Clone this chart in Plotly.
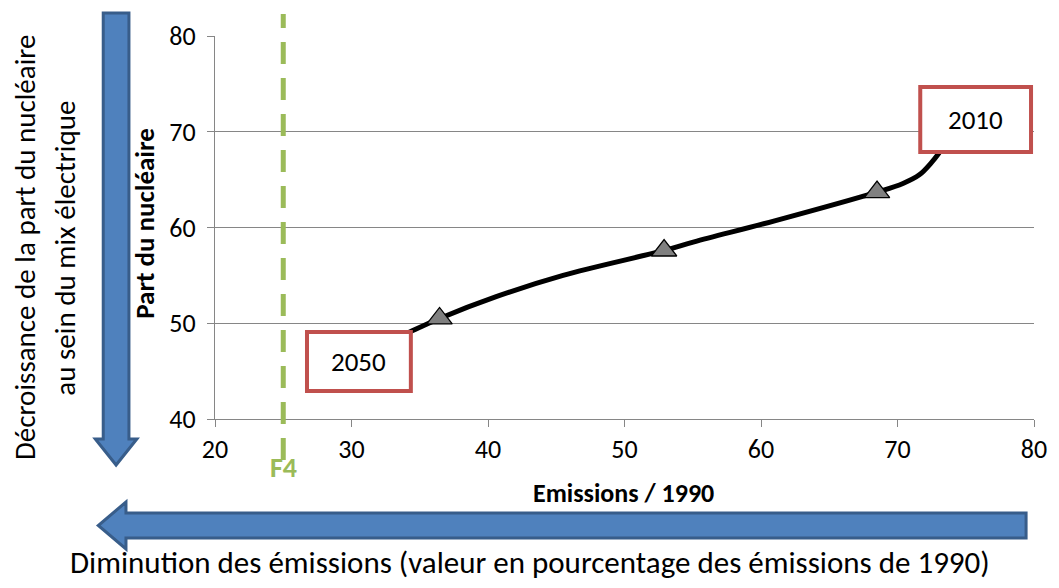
import plotly.graph_objects as go

# ---- data ----
curve_x = [33.0, 34.3, 36.45, 40.65, 45.5, 52.9, 55.1, 61.0, 68.5, 70.4, 71.6, 72.5, 73.0, 73.8]
curve_y = [48.2, 49.1, 50.5, 52.8, 55.0, 57.6, 58.5, 60.7, 63.7, 64.6, 65.5, 66.8, 67.7, 69.4]
marker_x = [36.45, 52.9, 68.5]
marker_y = [50.5, 57.6, 63.7]
f4_x = 25
x_ticks = [20, 30, 40, 50, 60, 70, 80]
y_ticks = [40, 50, 60, 70, 80]
labels_years = ["2050", "2010"]

W, H = 1059, 588
L, R, T, B = 215, 1043, 36, 419
PW, PH = R - L, B - T

def px(x):
    return (x - L) / PW

def py(y):
    return (B - y) / PH

FONT = "Carlito, Lato, 'Open Sans', sans-serif"
GRAY = "#868686"
BLUE = "#4F81BD"
DBLUE = "#385D8A"
RED = "#C0504D"
GREEN = "#9BBB59"

fig = go.Figure()
fig.add_trace(go.Scatter(
    x=curve_x, y=curve_y, mode="lines",
    line=dict(color="black", width=5, shape="spline", smoothing=1.0),
    hoverinfo="skip", showlegend=False,
))
fig.add_trace(go.Scatter(
    x=marker_x, y=marker_y, mode="markers",
    marker=dict(symbol="triangle-up", size=22, color="#808080",
                line=dict(color="black", width=1.3)),
    showlegend=False,
))

shapes = []
# F4 dashed vertical line
shapes.append(dict(type="line", xref="x", yref="paper", x0=f4_x, x1=f4_x,
                   y0=py(460), y1=py(14),
                   line=dict(color=GREEN, width=5, dash="22px,14px"), layer="above"))

# left vertical arrow
sl, sr, top, hb, hl, hr, tip = 102, 128, 13, 439, 94, 136, 465
cx = (sl + sr) / 2
path = (f"M {px(sl)},{py(top)} L {px(sr)},{py(top)} L {px(sr)},{py(hb)} "
        f"L {px(hr)},{py(hb)} L {px(cx)},{py(tip)} L {px(hl)},{py(hb)} "
        f"L {px(sl)},{py(hb)} Z")
shapes.append(dict(type="path", xref="paper", yref="paper", path=path,
                   fillcolor=BLUE, line=dict(color=DBLUE, width=3)))

# bottom horizontal arrow
st, sb, right, hbx, ht, hbt, tipx = 513, 538, 1035, 125, 502, 549, 97
cy = (st + sb) / 2
path2 = (f"M {px(right)},{py(st)} L {px(right)},{py(sb)} L {px(hbx)},{py(sb)} "
         f"L {px(hbx)},{py(hbt)} L {px(tipx)},{py(cy)} L {px(hbx)},{py(ht)} "
         f"L {px(hbx)},{py(st)} Z")
shapes.append(dict(type="path", xref="paper", yref="paper", path=path2,
                   fillcolor=BLUE, line=dict(color=DBLUE, width=3)))

annotations = []
# year boxes
for txt, (x0, y0, x1, y1) in zip(labels_years, [(308, 332, 413, 391), (928, 87, 1040, 152)]):
    shapes.append(dict(type="rect", xref="paper", yref="paper",
                       x0=px(x0), x1=px(x1), y0=py(y1), y1=py(y0),
                       fillcolor="white", line=dict(color=RED, width=4), layer="above"))
    annotations.append(dict(text=txt, xref="paper", yref="paper",
                            x=px((x0 + x1) / 2), y=py((y0 + y1) / 2),
                            showarrow=False, font=dict(size=27, color="black", family=FONT),
                            xanchor="center", yanchor="middle"))

annotations += [
    dict(text="<b>F4</b>", xref="x", yref="paper", x=f4_x, y=py(467),
         showarrow=False, font=dict(size=28, color=GREEN, family=FONT),
         xanchor="center", yanchor="middle"),
    dict(text="<b>Part du nucléaire</b>", xref="paper", yref="paper",
         x=px(143), y=py(223), textangle=-90, showarrow=False,
         font=dict(size=27, color="black", family=FONT), xanchor="center", yanchor="middle"),
    dict(text="<b>Emissions / 1990</b>", xref="paper", yref="paper",
         x=px(628), y=py(493), showarrow=False,
         font=dict(size=26, color="black", family=FONT), xanchor="center", yanchor="middle"),
    dict(text="Décroissance de la part du nucléaire", xref="paper", yref="paper",
         x=px(23), y=py(247), textangle=-90, showarrow=False,
         font=dict(size=29, color="black", family=FONT), xanchor="center", yanchor="middle"),
    dict(text="au sein du mix électrique", xref="paper", yref="paper",
         x=px(63), y=py(248), textangle=-90, showarrow=False,
         font=dict(size=29, color="black", family=FONT), xanchor="center", yanchor="middle"),
    dict(text="Diminution des émissions (valeur en pourcentage des émissions de 1990)",
         xref="paper", yref="paper", x=px(533), y=py(562), showarrow=False,
         font=dict(size=31, color="black", family=FONT), xanchor="center", yanchor="middle"),
]

fig.update_layout(
    width=W, height=H,
    margin=dict(l=L, r=W - R, t=T, b=H - B, pad=0),
    paper_bgcolor="white", plot_bgcolor="white",
    font=dict(family=FONT, color="black"),
    shapes=shapes, annotations=annotations,
    xaxis=dict(range=[20, 80], tickvals=x_ticks, showgrid=False, zeroline=False,
               showline=True, linecolor=GRAY, linewidth=1.3,
               ticks="outside", ticklen=7, tickcolor=GRAY, tickwidth=1.3,
               tickfont=dict(size=26, family=FONT, color="black")),
    yaxis=dict(range=[40, 80], tickvals=y_ticks, showgrid=True, gridcolor=GRAY, gridwidth=1.3,
               zeroline=False, showline=True, linecolor=GRAY, linewidth=1.3,
               ticks="outside", ticklen=7, tickcolor=GRAY, tickwidth=1.3,
               ticklabelstandoff=6,
               tickfont=dict(size=26, family=FONT, color="black")),
    showlegend=False,
)

fig.write_html("out.html", config={"displayModeBar": False},
               post_script="document.body.style.margin='0';")
